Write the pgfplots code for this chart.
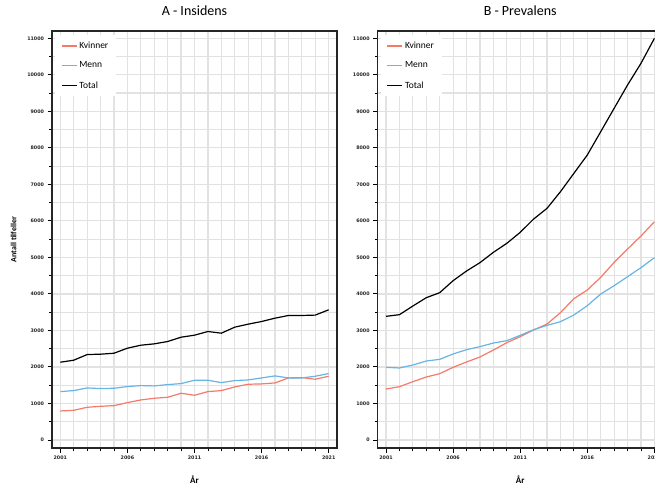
\documentclass[border=0pt]{standalone}
\usepackage{fontspec}
\setmainfont{Carlito}
\newfontfamily\tickfont{DejaVu Sans}
\usepackage{pgfplots}
\pgfplotsset{compat=1.18}
\definecolor{kv}{HTML}{F47A6A}
\definecolor{me}{HTML}{66B5E3}
\definecolor{gridc}{HTML}{E2E2E2}
\pgfplotsset{
  panel/.style={
    scale only axis, width=285pt, height=417pt,
    xmin=2000.38, xmax=2021.62, ymin=-219, ymax=11200,
    xtick={2001,2006,2011,2016,2021},
    minor xtick={2002,2003,2004,2005,2007,2008,2009,2010,2012,2013,2014,2015,2017,2018,2019,2020},
    ytick={0,1000,...,11000},
    minor ytick={500,1500,...,10500},
    scaled ticks=false,
    grid=both,
    major grid style={line width=1.2pt, gridc},
    minor grid style={line width=1.2pt, gridc},
    tick align=outside, tick pos=left,
    major tick length=4.5pt, minor tick length=3pt,
    every tick/.style={black, line width=1pt},
    every minor tick/.style={black, line width=0.8pt},
    axis line style={line width=1.2pt, black!85},
    /pgf/number format/assume math mode=true,
    /pgf/number format/1000 sep={},
    ticklabel style={font=\tickfont\bfseries\fontsize{4.8}{5.5}\selectfont, text=black!85},
    title style={font=\fontsize{14}{16}\selectfont, anchor=base, at={(axis description cs:0.5,1)}, yshift=9.5pt},
    xlabel={\textbf{År}},
    xlabel style={at={(axis description cs:0.5,0)}, anchor=base, yshift=-35pt, font=\fontsize{9}{10}\selectfont},
    legend style={at={(axis description cs:0.01,0.99)}, anchor=north west, draw=none, fill=white,
      font=\fontsize{9.5}{11}\selectfont, row sep=8pt, inner xsep=6pt, inner ysep=4.5pt,
      /tikz/every even column/.append style={column sep=7pt}},
    legend cell align=left,
    legend image code/.code={\draw[#1, line width=1.3pt] (0pt,0pt) -- (15pt,0pt);},
    clip=false,
  },
  kvs/.style={kv, line width=1.2pt, no marks},
  mes/.style={me, line width=1.2pt, no marks},
  tos/.style={black, line width=1.2pt, no marks},
}
\begin{document}
\begin{tikzpicture}
\begin{axis}[panel, at={(52pt,36pt)}, anchor=south west,
  title={A - Insidens},
  ylabel={\textbf{Antall tilfeller}},
  ylabel style={at={(axis description cs:-0.125,0.5)}, anchor=base, font=\fontsize{8}{9}\selectfont}]
\addplot[kvs] coordinates {(2001,795)(2002,813)(2003,896)(2004,923)(2005,941)(2006,1024)(2007,1097)(2008,1143)(2009,1170)(2010,1280)(2011,1225)(2012,1325)(2013,1353)(2014,1453)(2015,1527)(2016,1536)(2017,1563)(2018,1700)(2019,1709)(2020,1664)(2021,1746)};
\addlegendentry{Kvinner}
\addplot[mes] coordinates {(2001,1325)(2002,1353)(2003,1426)(2004,1408)(2005,1417)(2006,1463)(2007,1490)(2008,1481)(2009,1517)(2010,1545)(2011,1636)(2012,1636)(2013,1572)(2014,1627)(2015,1645)(2016,1700)(2017,1755)(2018,1700)(2019,1700)(2020,1746)(2021,1819)};
\addlegendentry{Menn}
\addplot[tos] coordinates {(2001,2130)(2002,2185)(2003,2340)(2004,2350)(2005,2376)(2006,2514)(2007,2596)(2008,2633)(2009,2697)(2010,2815)(2011,2870)(2012,2971)(2013,2925)(2014,3090)(2015,3172)(2016,3245)(2017,3336)(2018,3410)(2019,3410)(2020,3420)(2021,3565)};
\addlegendentry{Total}
\end{axis}
\begin{axis}[panel, at={(377.7pt,36pt)}, anchor=south west,
  title={B - Prevalens}]
\addplot[kvs] coordinates {(2001,1396)(2002,1460)(2003,1597)(2004,1725)(2005,1816)(2006,1990)(2007,2136)(2008,2273)(2009,2464)(2010,2665)(2011,2830)(2012,3012)(2013,3176)(2014,3487)(2015,3870)(2016,4107)(2017,4454)(2018,4865)(2019,5230)(2020,5586)(2021,5978)};
\addlegendentry{Kvinner}
\addplot[mes] coordinates {(2001,1990)(2002,1972)(2003,2054)(2004,2163)(2005,2209)(2006,2355)(2007,2474)(2008,2556)(2009,2656)(2010,2720)(2011,2866)(2012,3021)(2013,3140)(2014,3240)(2015,3423)(2016,3678)(2017,3998)(2018,4226)(2019,4472)(2020,4719)(2021,4993)};
\addlegendentry{Menn}
\addplot[tos] coordinates {(2001,3386)(2002,3432)(2003,3669)(2004,3897)(2005,4034)(2006,4363)(2007,4628)(2008,4856)(2009,5139)(2010,5385)(2011,5686)(2012,6051)(2013,6344)(2014,6800)(2015,7302)(2016,7804)(2017,8443)(2018,9082)(2019,9721)(2020,10314)(2021,10998)};
\addlegendentry{Total}
\end{axis}
\pgfresetboundingbox
\useasboundingbox (0pt,0pt) rectangle (655pt,484pt);
\end{tikzpicture}
\end{document}
